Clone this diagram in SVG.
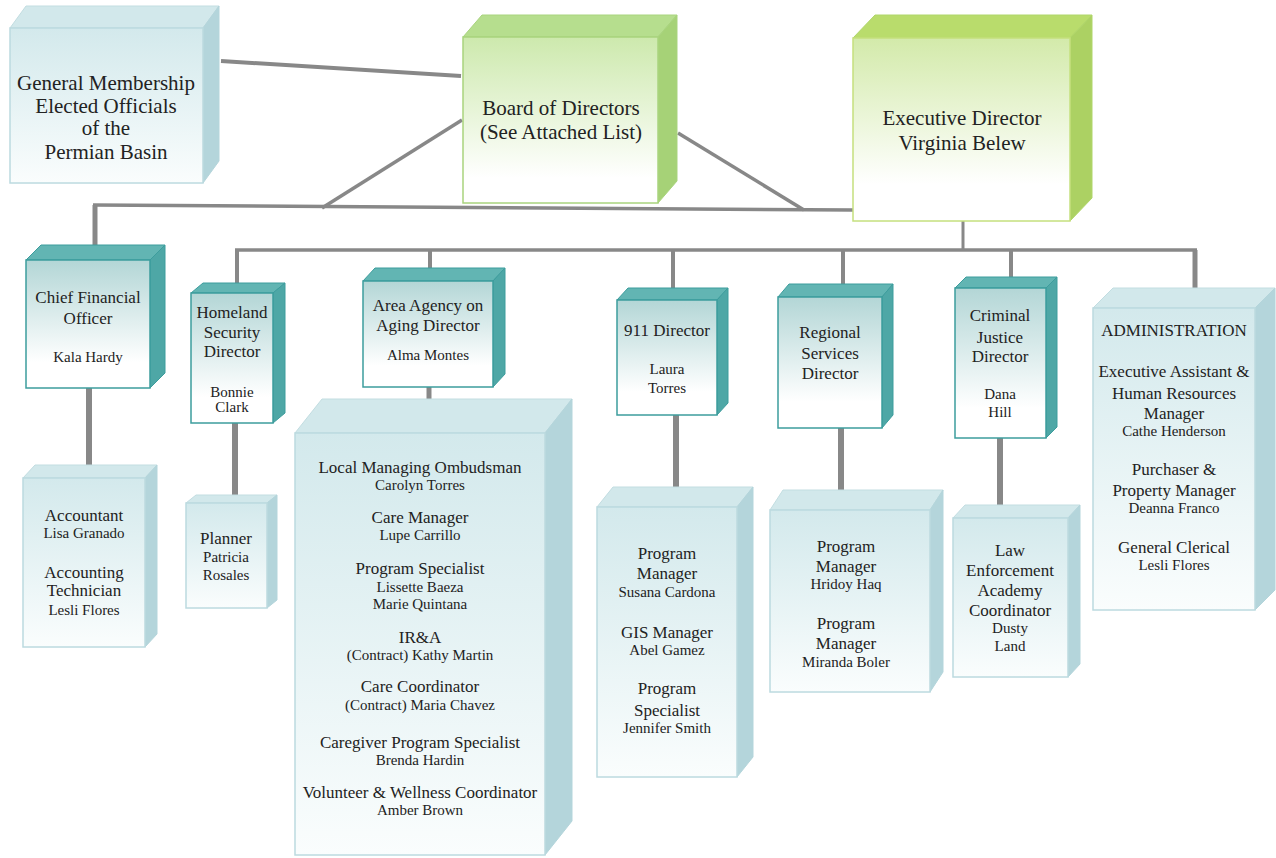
<svg xmlns="http://www.w3.org/2000/svg" width="1276" height="858" viewBox="0 0 1276 858">
<defs>
<linearGradient id="gGreen" x1="0" y1="0" x2="0" y2="1"><stop offset="0" stop-color="#cde9ad"/><stop offset="0.85" stop-color="#ffffff"/></linearGradient>
<linearGradient id="gExec" x1="0" y1="0" x2="0" y2="1"><stop offset="0" stop-color="#d3eaaa"/><stop offset="0.8" stop-color="#ffffff"/></linearGradient>
<linearGradient id="gDir" x1="0" y1="0" x2="0" y2="1"><stop offset="0" stop-color="#b3d6d6"/><stop offset="0.8" stop-color="#ffffff"/></linearGradient>
<linearGradient id="gLight" x1="0" y1="0" x2="0" y2="1"><stop offset="0" stop-color="#d3e9ec"/><stop offset="1" stop-color="#fafdfd"/></linearGradient>
<style>
.t{fill:#222;text-anchor:middle}
.big{font-size:21px}
.ti{font-size:17px}
.nm{font-size:15px}
.gf{fill:url(#gGreen);stroke:#a9d47e;stroke-width:1.5}
.gt{fill:#b6de8e;stroke:#a9d47e;stroke-width:1}
.gs{fill:#a6d277;stroke:#a9d47e;stroke-width:1}
.ef{fill:url(#gExec);stroke:#c5e07e;stroke-width:1.5}
.et{fill:#b9dc6c;stroke:#b0d66a;stroke-width:1}
.es{fill:#acd163;stroke:#b0d66a;stroke-width:1}
.df{fill:url(#gDir);stroke:#3d9d9d;stroke-width:1.5}
.dt{fill:#62b5b3;stroke:#3d9d9d;stroke-width:1}
.ds{fill:#4ea7a6;stroke:#3d9d9d;stroke-width:1}
.lf{fill:url(#gLight);stroke:#bcdadf;stroke-width:1.5}
.lt{fill:#d2e8eb;stroke:#c2dde1;stroke-width:1}
.ls{fill:#b4d5db;stroke:#b4d5db;stroke-width:1}
.c{stroke:#888;fill:none;stroke-linecap:butt}
</style>
</defs>
<rect width="1276" height="858" fill="#ffffff"/>

<g id="connectors">
<line class="c" x1="221" y1="61" x2="461" y2="76" stroke-width="4"/>
<line class="c" x1="462" y1="120" x2="322" y2="208" stroke-width="3.5"/>
<line class="c" x1="678" y1="133" x2="804" y2="210" stroke-width="3.5"/>
<line class="c" x1="93" y1="205" x2="853" y2="210" stroke-width="3.5"/>
<line class="c" x1="95" y1="205" x2="95" y2="248" stroke-width="5"/>
<line class="c" x1="963" y1="221" x2="963" y2="251" stroke-width="3"/>
<line class="c" x1="235" y1="250" x2="1197" y2="250" stroke-width="3.5"/>
<line class="c" x1="237" y1="250" x2="237" y2="286" stroke-width="4"/>
<line class="c" x1="430" y1="250" x2="430" y2="270" stroke-width="4"/>
<line class="c" x1="673" y1="250" x2="673" y2="290" stroke-width="4"/>
<line class="c" x1="843" y1="250" x2="843" y2="287" stroke-width="4"/>
<line class="c" x1="1011" y1="250" x2="1011" y2="280" stroke-width="4"/>
<line class="c" x1="1195" y1="250" x2="1195" y2="290" stroke-width="5"/>
<line class="c" x1="89" y1="388" x2="89" y2="467" stroke-width="6"/>
<line class="c" x1="235" y1="423" x2="235" y2="497" stroke-width="6"/>
<line class="c" x1="429" y1="387" x2="429" y2="400" stroke-width="5"/>
<line class="c" x1="676" y1="415" x2="676" y2="488" stroke-width="6"/>
<line class="c" x1="841" y1="428" x2="841" y2="492" stroke-width="6"/>
<line class="c" x1="1000" y1="438" x2="1000" y2="506" stroke-width="6"/>
</g>

<g font-family="'Liberation Serif', 'DejaVu Serif', serif">
<g id="general-membership">
<polygon class="lt" points="10,28 26,6 219,6 203,28"/>
<polygon class="ls" points="203,28 219,6 219,161 203,183"/>
<rect class="lf" x="10" y="28" width="193" height="155"/>
<text class="t big" x="106" y="90">General Membership</text>
<text class="t big" x="106" y="113">Elected Officials</text>
<text class="t big" x="106" y="135">of the</text>
<text class="t big" x="106" y="159">Permian Basin</text>
</g>

<g id="board">
<polygon class="gt" points="463,37 482,15 677,15 658,37"/>
<polygon class="gs" points="658,37 677,15 677,181 658,203"/>
<rect class="gf" x="463" y="37" width="195" height="166"/>
<text class="t big" x="561" y="115">Board of Directors</text>
<text class="t big" x="561" y="139">(See Attached List)</text>
</g>

<g id="executive-director">
<polygon class="et" points="853,38 875,15 1092,15 1070,38"/>
<polygon class="es" points="1070,38 1092,15 1092,198 1070,221"/>
<rect class="ef" x="853" y="38" width="217" height="183"/>
<text class="t big" x="962" y="125">Executive Director</text>
<text class="t big" x="962" y="150">Virginia Belew</text>
</g>

<g id="cfo">
<polygon class="dt" points="26,260 41,245 165,245 150,260"/>
<polygon class="ds" points="150,260 165,245 165,373 150,388"/>
<rect class="df" x="26" y="260" width="124" height="128"/>
<text class="t ti" x="88" y="303">Chief Financial</text>
<text class="t ti" x="88" y="324">Officer</text>
<text class="t nm" x="88" y="362">Kala Hardy</text>
</g>

<g id="accounting">
<polygon class="lt" points="23,478 35,465 157,465 145,478"/>
<polygon class="ls" points="145,478 157,465 157,634 145,647"/>
<rect class="lf" x="23" y="478" width="122" height="169"/>
<text class="t ti" x="84" y="521">Accountant</text>
<text class="t nm" x="84" y="538">Lisa Granado</text>
<text class="t ti" x="84" y="578">Accounting</text>
<text class="t ti" x="84" y="596">Technician</text>
<text class="t nm" x="84" y="615">Lesli Flores</text>
</g>

<g id="homeland">
<polygon class="dt" points="191,293 203,283 285,283 273,293"/>
<polygon class="ds" points="273,293 285,283 285,413 273,423"/>
<rect class="df" x="191" y="293" width="82" height="130"/>
<text class="t ti" x="232" y="318">Homeland</text>
<text class="t ti" x="232" y="338">Security</text>
<text class="t ti" x="232" y="357">Director</text>
<text class="t nm" x="232" y="397">Bonnie</text>
<text class="t nm" x="232" y="412">Clark</text>
</g>

<g id="planner">
<polygon class="lt" points="186,503 196,495 277,495 267,503"/>
<polygon class="ls" points="267,503 277,495 277,600 267,608"/>
<rect class="lf" x="186" y="503" width="81" height="105"/>
<text class="t ti" x="226" y="544">Planner</text>
<text class="t nm" x="226" y="562">Patricia</text>
<text class="t nm" x="226" y="580">Rosales</text>
</g>

<g id="aging">
<polygon class="dt" points="363,281 375,268 505,268 493,281"/>
<polygon class="ds" points="493,281 505,268 505,374 493,387"/>
<rect class="df" x="363" y="281" width="130" height="106"/>
<text class="t ti" x="428" y="311">Area Agency on</text>
<text class="t ti" x="428" y="331">Aging Director</text>
<text class="t nm" x="428" y="360">Alma Montes</text>
</g>

<g id="aging-staff">
<polygon class="lt" points="295,433 322,399 572,399 545,433"/>
<polygon class="ls" points="545,433 572,399 572,821 545,855"/>
<rect class="lf" x="295" y="433" width="250" height="422"/>
<text class="t ti" x="420" y="473">Local Managing Ombudsman</text>
<text class="t nm" x="420" y="490">Carolyn Torres</text>
<text class="t ti" x="420" y="523">Care Manager</text>
<text class="t nm" x="420" y="540">Lupe Carrillo</text>
<text class="t ti" x="420" y="574">Program Specialist</text>
<text class="t nm" x="420" y="592">Lissette Baeza</text>
<text class="t nm" x="420" y="609">Marie Quintana</text>
<text class="t ti" x="420" y="643">IR&amp;A</text>
<text class="t nm" x="420" y="660">(Contract) Kathy Martin</text>
<text class="t ti" x="420" y="692">Care Coordinator</text>
<text class="t nm" x="420" y="710">(Contract) Maria Chavez</text>
<text class="t ti" x="420" y="748">Caregiver Program Specialist</text>
<text class="t nm" x="420" y="765">Brenda Hardin</text>
<text class="t ti" x="420" y="798">Volunteer &amp; Wellness Coordinator</text>
<text class="t nm" x="420" y="815">Amber Brown</text>
</g>

<g id="director-911">
<polygon class="dt" points="617,300 628,288 728,288 717,300"/>
<polygon class="ds" points="717,300 728,288 728,403 717,415"/>
<rect class="df" x="617" y="300" width="100" height="115"/>
<text class="t ti" x="667" y="336">911 Director</text>
<text class="t nm" x="667" y="374">Laura</text>
<text class="t nm" x="667" y="393">Torres</text>
</g>

<g id="staff-911">
<polygon class="lt" points="597,507 613,487 753,487 737,507"/>
<polygon class="ls" points="737,507 753,487 753,757 737,777"/>
<rect class="lf" x="597" y="507" width="140" height="270"/>
<text class="t ti" x="667" y="559">Program</text>
<text class="t ti" x="667" y="579">Manager</text>
<text class="t nm" x="667" y="597">Susana Cardona</text>
<text class="t ti" x="667" y="638">GIS Manager</text>
<text class="t nm" x="667" y="655">Abel Gamez</text>
<text class="t ti" x="667" y="694">Program</text>
<text class="t ti" x="667" y="716">Specialist</text>
<text class="t nm" x="667" y="733">Jennifer Smith</text>
</g>

<g id="regional">
<polygon class="dt" points="778,297 789,284 893,284 882,297"/>
<polygon class="ds" points="882,297 893,284 893,415 882,428"/>
<rect class="df" x="778" y="297" width="104" height="131"/>
<text class="t ti" x="830" y="338">Regional</text>
<text class="t ti" x="830" y="359">Services</text>
<text class="t ti" x="830" y="379">Director</text>
</g>

<g id="regional-staff">
<polygon class="lt" points="770,510 783,490 943,490 930,510"/>
<polygon class="ls" points="930,510 943,490 943,672 930,692"/>
<rect class="lf" x="770" y="510" width="160" height="182"/>
<text class="t ti" x="846" y="552">Program</text>
<text class="t ti" x="846" y="572">Manager</text>
<text class="t nm" x="846" y="589">Hridoy Haq</text>
<text class="t ti" x="846" y="629">Program</text>
<text class="t ti" x="846" y="649">Manager</text>
<text class="t nm" x="846" y="667">Miranda Boler</text>
</g>

<g id="criminal-justice">
<polygon class="dt" points="955,288 966,277 1057,277 1046,288"/>
<polygon class="ds" points="1046,288 1057,277 1057,427 1046,438"/>
<rect class="df" x="955" y="288" width="91" height="150"/>
<text class="t ti" x="1000" y="321">Criminal</text>
<text class="t ti" x="1000" y="343">Justice</text>
<text class="t ti" x="1000" y="362">Director</text>
<text class="t nm" x="1000" y="399">Dana</text>
<text class="t nm" x="1000" y="417">Hill</text>
</g>

<g id="law-enforcement">
<polygon class="lt" points="953,518 965,505 1080,505 1068,518"/>
<polygon class="ls" points="1068,518 1080,505 1080,664 1068,677"/>
<rect class="lf" x="953" y="518" width="115" height="159"/>
<text class="t ti" x="1010" y="556">Law</text>
<text class="t ti" x="1010" y="576">Enforcement</text>
<text class="t ti" x="1010" y="596">Academy</text>
<text class="t ti" x="1010" y="616">Coordinator</text>
<text class="t nm" x="1010" y="633">Dusty</text>
<text class="t nm" x="1010" y="651">Land</text>
</g>

<g id="administration">
<polygon class="lt" points="1093,308 1113,288 1275,288 1255,308"/>
<polygon class="ls" points="1255,308 1275,288 1275,590 1255,610"/>
<rect class="lf" x="1093" y="308" width="162" height="302"/>
<text class="t ti" x="1174" y="336">ADMINISTRATION</text>
<text class="t ti" x="1174" y="377">Executive Assistant &amp;</text>
<text class="t ti" x="1174" y="399">Human Resources</text>
<text class="t ti" x="1174" y="419">Manager</text>
<text class="t nm" x="1174" y="436">Cathe Henderson</text>
<text class="t ti" x="1174" y="475">Purchaser &amp;</text>
<text class="t ti" x="1174" y="496">Property Manager</text>
<text class="t nm" x="1174" y="513">Deanna Franco</text>
<text class="t ti" x="1174" y="553">General Clerical</text>
<text class="t nm" x="1174" y="570">Lesli Flores</text>
</g>
</g>
</svg>
